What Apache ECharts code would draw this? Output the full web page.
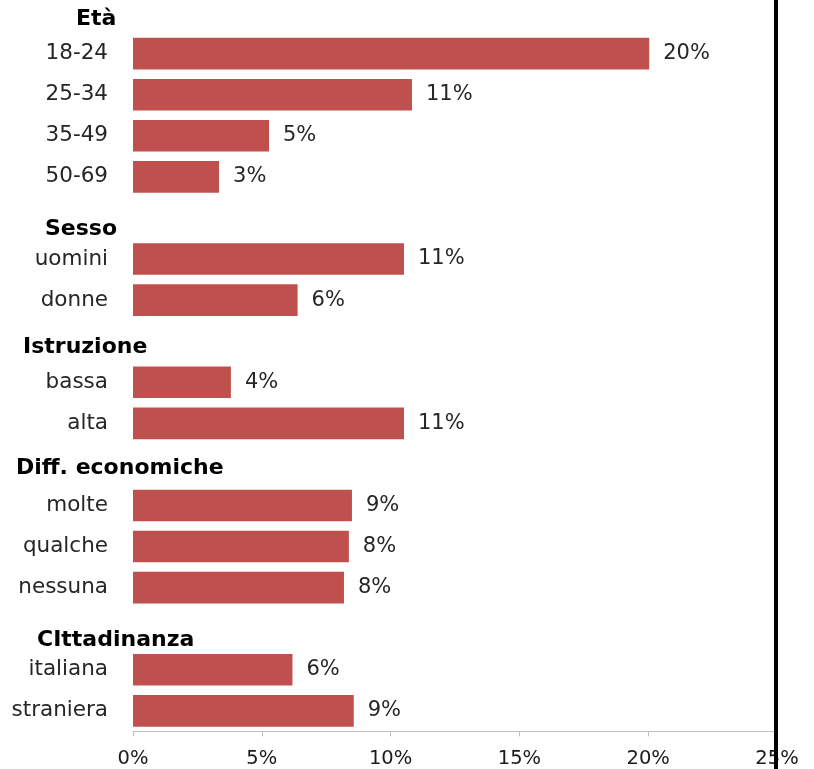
<!DOCTYPE html>
<html>
<head>
<meta charset="utf-8">
<script src="https://cdn.jsdelivr.net/npm/echarts@6/dist/echarts.min.js"></script>
<style>
html,body{margin:0;padding:0;background:#fff;}
#chart{width:814px;height:769px;}
</style>
</head>
<body>
<div id="chart"></div>
<script>
// Categories (top to bottom), group headers have no bar
const categories = ['Età','18-24','25-34','35-49','50-69','Sesso','uomini','donne','Istruzione','bassa','alta','Diff. economiche','molte','qualche','nessuna','CIttadinanza','italiana','straniera'];
const values = ['-',20.04,10.83,5.28,3.34,'-',10.52,6.39,'-',3.80,10.52,'-',8.5,8.38,8.19,'-',6.19,8.57];
const headers = ['Età','Sesso','Istruzione','Diff. economiche','CIttadinanza'];
const xMin = 0, xMax = 25, xStep = 5;

// header label styles (visual placement only)
const headerStyle = {
  h0: {left: 76, dy: 7},
  h1: {left: 45, dy: 11},
  h2: {left: 23, dy: 6},
  h3: {left: 16, dy: 4},
  h4: {left: 37, dy: 12}
};
const rich = {};
Object.keys(headerStyle).forEach(k => {
  const s = headerStyle[k];
  rich[k] = {fontFamily: 'DejaVu Sans', fontWeight: 'bold', fontSize: 22, color: '#000',
             padding: [2 * s.dy, 0, 0, s.left]};
});

const chart = echarts.init(document.getElementById('chart'), null, {renderer: 'canvas'});
chart.setOption({
  animation: false,
  backgroundColor: '#fff',
  grid: {left: 133, right: 37, top: -8, bottom: 37.6, containLabel: false, outerBoundsMode: 'none'},
  xAxis: {
    type: 'value', min: xMin, max: xMax, interval: xStep,
    axisLine: {show: true, lineStyle: {color: '#BFBFBF', width: 1}},
    axisTick: {show: true, length: 5, lineStyle: {color: '#BFBFBF'}},
    splitLine: {show: false},
    axisLabel: {margin: 18, fontFamily: 'DejaVu Sans', fontSize: 19.5, color: '#1a1a1a',
                formatter: v => v + '%'}
  },
  yAxis: [{
    type: 'category', data: categories, inverse: true, position: 'left',
    axisLine: {show: false}, axisTick: {show: false},
    axisLabel: {margin: 25, fontFamily: 'DejaVu Sans', fontSize: 21.5, color: '#262626',
                padding: [5, 0, 0, 0],
                formatter: v => headers.indexOf(v) >= 0 ? '' : v}
  }, {
    type: 'category', data: categories, inverse: true, position: 'left', offset: 0,
    axisLine: {show: false}, axisTick: {show: false},
    axisLabel: {margin: 133, align: 'left', rich: rich,
                formatter: v => {
                  const i = headers.indexOf(v);
                  return i >= 0 ? '{h' + i + '|' + v + '}' : '';
                }}
  }],
  series: [{
    type: 'bar', yAxisIndex: 0, data: values,
    barCategoryGap: '23%',
    itemStyle: {color: '#C0504D'},
    label: {show: true, position: 'right', distance: 14, fontFamily: 'DejaVu Sans', fontSize: 21,
            color: '#262626', padding: [5, 0, 0, 0], formatter: p => Math.round(p.value) + '%'}
  }],
  graphic: [{
    type: 'rect', left: 774, top: 0, z: 100,
    shape: {width: 4, height: 769},
    style: {fill: '#000'}
  }]
});
</script>
</body>
</html>
